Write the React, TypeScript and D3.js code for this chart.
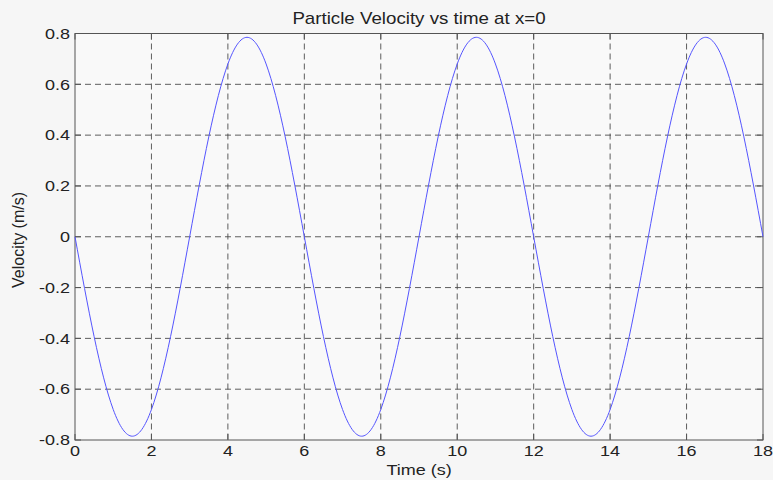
import React from "react";
import * as d3 from "d3";

const timeValues = [0, 0.5, 1, 1.5, 2, 2.5, 3, 3.5, 4, 4.5, 5, 5.5, 6, 6.5, 7, 7.5, 8, 8.5, 9, 9.5, 10, 10.5, 11, 11.5, 12, 12.5, 13, 13.5, 14, 14.5, 15, 15.5, 16, 16.5, 17, 17.5, 18];
const velocityValues = [0, -0.393, -0.68, -0.785, -0.68, -0.393, 0, 0.393, 0.68, 0.785, 0.68, 0.393, 0, -0.393, -0.68, -0.785, -0.68, -0.393, 0, 0.393, 0.68, 0.785, 0.68, 0.393, 0, -0.393, -0.68, -0.785, -0.68, -0.393, 0, 0.393, 0.68, 0.785, 0.68, 0.393, 0];
const xTicks = [0, 2, 4, 6, 8, 10, 12, 14, 16, 18];
const yTicks = [-0.8, -0.6, -0.4, -0.2, 0, 0.2, 0.4, 0.6, 0.8];
const title = "Particle Velocity vs time at x=0";
const xLabel = "Time (s)";
const yLabel = "Velocity (m/s)";

const W = 773, H = 480;
const M = { left: 75, right: 763, top: 33.5, bottom: 440 };
const SX = 1.2;

export default function App() {
  const x = d3.scaleLinear().domain([0, 18]).range([M.left, M.right]);
  const y = d3.scaleLinear().domain([-0.8, 0.8]).range([M.bottom, M.top]);
  const pts = timeValues.map((t, i) => [t, velocityValues[i]] as [number, number]);
  const line = d3.line<[number, number]>().x(d => x(d[0])).y(d => y(d[1])).curve(d3.curveNatural);
  const font = "'Liberation Sans', Arial, Helvetica, sans-serif";
  const axisColor = "#555";
  return (
    <svg width={W} height={H} style={{ position: "absolute", left: 0, top: 0, background: "#fff" }} fontFamily={font}>
      <rect x={0} y={0} width={W} height={H} fill="#f6f6f6" />
      <rect x={M.left} y={M.top} width={M.right - M.left} height={M.bottom - M.top} fill="#f9f9f9" />
      {xTicks.slice(1, -1).map(t => (
        <line key={"gx" + t} x1={x(t)} x2={x(t)} y1={M.top} y2={M.bottom} stroke="#444" strokeWidth={1} strokeDasharray="6,4" opacity={0.85} />
      ))}
      {yTicks.slice(1, -1).map(t => (
        <line key={"gy" + t} x1={M.left} x2={M.right} y1={y(t)} y2={y(t)} stroke="#444" strokeWidth={1} strokeDasharray="6,4" opacity={0.85} />
      ))}
      {xTicks.map(t => (
        <g key={"tx" + t}>
          <line x1={x(t)} x2={x(t)} y1={M.bottom} y2={M.bottom - 6} stroke={axisColor} />
          <line x1={x(t)} x2={x(t)} y1={M.top} y2={M.top + 6} stroke={axisColor} />
          <text transform={`translate(${x(t)},456) scale(${SX},1)`} textAnchor="middle" fontSize={15} fill="#222">{t}</text>
        </g>
      ))}
      {yTicks.map(t => (
        <g key={"ty" + t}>
          <line x1={M.left} x2={M.left + 6} y1={y(t)} y2={y(t)} stroke={axisColor} />
          <line x1={M.right} x2={M.right - 6} y1={y(t)} y2={y(t)} stroke={axisColor} />
          <text transform={`translate(70,${y(t) + 5.3}) scale(${SX},1)`} textAnchor="end" fontSize={15} fill="#222">{t === 0 ? "0" : t.toFixed(1)}</text>
        </g>
      ))}
      <rect x={M.left} y={M.top} width={M.right - M.left} height={M.bottom - M.top} fill="none" stroke={axisColor} strokeWidth={1} />
      <path d={line(pts) || ""} fill="none" stroke="#5555ff" strokeWidth={1} />
      <text transform={`translate(${(M.left + M.right) / 2},24) scale(1.17,1)`} textAnchor="middle" fontSize={16} fill="#222">{title}</text>
      <text transform={`translate(${(M.left + M.right) / 2},475) scale(${SX},1)`} textAnchor="middle" fontSize={15} fill="#222">{xLabel}</text>
      <text transform={`translate(23.5,240) rotate(-90)`} textAnchor="middle" fontSize={16} fill="#222">{yLabel}</text>
    </svg>
  );
}
